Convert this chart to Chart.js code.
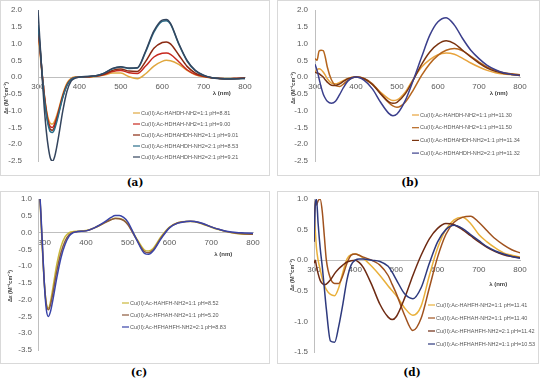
<!DOCTYPE html>
<html>
<head>
<meta charset="utf-8">
<script src="https://cdn.jsdelivr.net/npm/chart.js@4.4.1/dist/chart.umd.min.js"></script>
<style>
  body { margin: 0; background: #fff; width: 550px; height: 383px; position: relative; overflow: hidden; }
  .frame { position: absolute; border: 1px solid #d9d9d9; box-sizing: border-box; }
  canvas { position: absolute; }
  .tag { position: absolute; font-family: 'DejaVu Serif', serif; font-weight: bold; font-size: 10.5px; color: #000; transform: translateX(-50%); }
</style>
</head>
<body>
<div class="frame" style="left:0;top:0;width:270px;height:176px"></div>
<div class="frame" style="left:277px;top:0;width:263px;height:176px"></div>
<div class="frame" style="left:0;top:191px;width:270px;height:173px"></div>
<div class="frame" style="left:277px;top:191px;width:262px;height:173px"></div>
<canvas id="chartA" width="270" height="176" style="left:0;top:0"></canvas>
<canvas id="chartB" width="263" height="176" style="left:277px;top:0"></canvas>
<canvas id="chartC" width="270" height="175" style="left:0;top:190px"></canvas>
<canvas id="chartD" width="263" height="175" style="left:277px;top:190px"></canvas>
<div class="tag" style="left:135px;top:176px">(a)</div>
<div class="tag" style="left:410px;top:176px">(b)</div>
<div class="tag" style="left:139px;top:366px">(c)</div>
<div class="tag" style="left:412px;top:366px">(d)</div>
<script>
// Wavelength ticks shared by all four panels
const xTicks = [300, 400, 500, 600, 700, 800];

// Panel (a)
const wavelengthsA = [300, 305, 310, 315, 320, 325, 330, 335, 340, 345, 350, 360, 370, 380, 390, 400, 420, 440, 460, 480,
  500, 520, 540, 560, 580, 600, 610, 620, 640, 660, 680, 700, 720, 740, 760, 780, 800];
const seriesA1 = [1.3, 0.7, 0.05, -0.5, -0.95, -1.25, -1.38, -1.4, -1.32, -1.15, -0.95, -0.5, -0.18, -0.04, 0.0, 0.0, 0.0, 0.02, 0.06, 0.12,
  0.12, 0.01, -0.05, 0.1, 0.33, 0.47, 0.5, 0.49, 0.38, 0.2, 0.07, 0.01, -0.02, -0.04, -0.04, -0.04, -0.03];
const seriesA2 = [1.45, 0.8, 0.1, -0.5, -1.0, -1.33, -1.48, -1.5, -1.4, -1.22, -1.0, -0.55, -0.22, -0.06, -0.01, 0.0, 0.01, 0.03, 0.08, 0.17,
  0.2, 0.13, 0.11, 0.33, 0.6, 0.71, 0.72, 0.68, 0.46, 0.22, 0.08, 0.02, -0.02, -0.04, -0.05, -0.04, -0.03];
const seriesA3 = [1.5, 0.85, 0.1, -0.55, -1.05, -1.4, -1.56, -1.58, -1.48, -1.28, -1.05, -0.58, -0.24, -0.07, -0.01, 0.0, 0.01, 0.03, 0.09, 0.2,
  0.24, 0.18, 0.17, 0.47, 0.86, 1.03, 1.05, 0.99, 0.66, 0.32, 0.12, 0.03, -0.02, -0.04, -0.05, -0.04, -0.03];
const seriesA4 = [1.55, 0.9, 0.1, -0.6, -1.1, -1.45, -1.63, -1.65, -1.55, -1.35, -1.1, -0.6, -0.25, -0.07, -0.01, 0.0, 0.02, 0.04, 0.12, 0.25,
  0.3, 0.26, 0.27, 0.75, 1.34, 1.66, 1.68, 1.58, 0.98, 0.48, 0.19, 0.05, -0.02, -0.04, -0.05, -0.05, -0.04];
const seriesA5 = [2.0, 1.0, 0.0, -0.9, -1.6, -2.1, -2.42, -2.5, -2.38, -2.1, -1.75, -1.0, -0.42, -0.12, -0.03, 0.0, 0.02, 0.04, 0.12, 0.26,
  0.31, 0.27, 0.28, 0.78, 1.38, 1.7, 1.72, 1.6, 1.0, 0.5, 0.2, 0.06, -0.02, -0.05, -0.06, -0.05, -0.04];
const labelsA = ['Cu(II):Ac-HAHDH-NH2=1:1 pH=8.81', 'Cu(II):Ac-HDHAH-NH2=1:1 pH=9.00', 'Cu(II):Ac-HDHAHDH-NH2=1:1 pH=9.01',
  'Cu(II):Ac-HDHAHDH-NH2=2:1 pH=8.53', 'Cu(II):Ac-HDHAHDH-NH2=2:1 pH=9.21'];
const colorsA = ['#E0A840', '#C8281E', '#8B2A12', '#2A6F8A', '#34455E'];

// Panel (b)
const wavelengthsB = [300, 305, 310, 315, 320, 325, 330, 340, 350, 360, 370, 380, 400, 420, 440, 460, 480, 490, 500, 520,
  540, 560, 580, 600, 620, 640, 660, 680, 700, 720, 740, 760, 780, 800];
const seriesB1 = [0.15, 0.22, 0.25, 0.22, 0.15, 0.06, -0.05, -0.18, -0.2, -0.16, -0.1, -0.04, 0.0, -0.06, -0.22, -0.45, -0.65, -0.7, -0.68, -0.45,
  -0.05, 0.3, 0.52, 0.67, 0.72, 0.68, 0.56, 0.42, 0.3, 0.2, 0.13, 0.09, 0.07, 0.05];
const seriesB2 = [0.55, 0.5, 0.78, 0.8, 0.79, 0.6, 0.3, -0.08, -0.25, -0.28, -0.2, -0.1, 0.0, -0.04, -0.2, -0.48, -0.76, -0.86, -0.9, -0.75,
  -0.38, 0.05, 0.4, 0.65, 0.8, 0.85, 0.78, 0.62, 0.45, 0.3, 0.2, 0.13, 0.1, 0.07];
const seriesB3 = [0.15, 0.12, 0.1, 0.05, 0.0, -0.08, -0.15, -0.24, -0.25, -0.2, -0.12, -0.05, 0.0, -0.05, -0.22, -0.5, -0.74, -0.78, -0.75, -0.5,
  -0.08, 0.38, 0.75, 0.98, 1.08, 1.0, 0.8, 0.6, 0.42, 0.27, 0.17, 0.11, 0.08, 0.05];
const seriesB4 = [0.38, 0.2, -0.05, -0.3, -0.5, -0.63, -0.72, -0.78, -0.72, -0.52, -0.3, -0.12, 0.0, -0.1, -0.35, -0.75, -1.08, -1.15, -1.1, -0.7,
  -0.08, 0.6, 1.25, 1.65, 1.77, 1.55, 1.15, 0.8, 0.55, 0.35, 0.22, 0.13, 0.08, 0.05];
const labelsB = ['Cu(II):Ac-HAHDH-NH2=1:1 pH=11.30', 'Cu(II):Ac-HDHAH-NH2=1:1 pH=11.50', 'Cu(II):Ac-HDHAHDH-NH2=1:1 pH=11.34',
  'Cu(II):Ac-HDHAHDH-NH2=2:1 pH=11.32'];
const colorsB = ['#E8A33C', '#B5651D', '#7A3410', '#3B3F8C'];

// Panel (c)
const wavelengthsC = [285, 290, 295, 300, 305, 310, 315, 320, 330, 340, 350, 360, 370, 380, 400, 420, 440, 460, 470, 480,
  490, 500, 520, 540, 550, 560, 580, 600, 620, 640, 650, 660, 680, 700, 720, 740, 760, 780, 800];
const seriesC1 = [1.5, 0.9, -0.4, -1.5, -2.12, -2.25, -2.05, -1.7, -0.95, -0.42, -0.12, 0.0, 0.03, 0.04, 0.06, 0.14, 0.26, 0.39, 0.43, 0.42,
  0.37, 0.26, -0.15, -0.52, -0.55, -0.48, -0.12, 0.16, 0.29, 0.33, 0.33, 0.32, 0.25, 0.16, 0.08, 0.02, -0.03, -0.05, -0.05];
const seriesC2 = [1.5, 0.95, -0.3, -1.45, -2.15, -2.3, -2.15, -1.85, -1.15, -0.6, -0.25, -0.06, 0.01, 0.03, 0.05, 0.14, 0.26, 0.38, 0.42, 0.41,
  0.36, 0.24, -0.18, -0.57, -0.6, -0.53, -0.15, 0.15, 0.29, 0.33, 0.34, 0.33, 0.26, 0.17, 0.09, 0.02, -0.02, -0.04, -0.05];
const seriesC3 = [1.6, 1.0, -0.2, -1.5, -2.3, -2.5, -2.35, -2.05, -1.35, -0.75, -0.35, -0.1, 0.0, 0.03, 0.05, 0.14, 0.28, 0.45, 0.51, 0.51,
  0.45, 0.32, -0.18, -0.62, -0.65, -0.56, -0.18, 0.14, 0.28, 0.33, 0.34, 0.33, 0.27, 0.17, 0.09, 0.03, 0.0, -0.01, -0.02];
const labelsC = ['Cu(II):Ac-HAHFH-NH2=1:1 pH=8.52', 'Cu(II):Ac-HFHAH-NH2=1:1 pH=5.20', 'Cu(II):Ac-HFHAHFH-NH2=2:1 pH=8.83'];
const colorsC = ['#C9B83A', '#8B5A3C', '#3A44A8'];

// Panel (d)
const wavelengthsD = [300, 303, 306, 310, 315, 320, 325, 330, 340, 350, 360, 370, 380, 390, 400, 410, 420, 440, 460, 480,
  490, 500, 520, 540, 560, 580, 600, 620, 640, 660, 680, 700, 720, 740, 760, 780, 800];
const seriesD1 = [0.85, 0.5, 0.2, 0.0, -0.15, -0.3, -0.4, -0.48, -0.56, -0.58, -0.45, -0.2, 0.02, 0.09, 0.1, 0.08, 0.03, -0.1, -0.25, -0.42,
  -0.5, -0.58, -0.78, -0.9, -0.75, -0.25, 0.2, 0.5, 0.66, 0.7, 0.6, 0.42, 0.3, 0.2, 0.12, 0.08, 0.05];
const seriesD2 = [0.3, 0.97, 0.9, 0.97, 1.0, 0.8, 0.4, 0.0, -0.3, -0.38, -0.38, -0.25, -0.05, 0.08, 0.1, 0.08, 0.05, 0.0, -0.08, -0.25,
  -0.4, -0.55, -0.9, -1.15, -0.95, -0.45, 0.05, 0.42, 0.62, 0.7, 0.72, 0.62, 0.48, 0.35, 0.25, 0.17, 0.12];
const seriesD3 = [-0.05, 0.0, -0.1, -0.22, -0.33, -0.38, -0.4, -0.39, -0.32, -0.22, -0.14, -0.08, -0.03, -0.01, 0.0, -0.04, -0.12, -0.4, -0.72, -0.93,
  -0.97, -0.92, -0.62, -0.25, 0.08, 0.35, 0.52, 0.6, 0.58, 0.5, 0.4, 0.3, 0.21, 0.14, 0.09, 0.06, 0.04];
const seriesD4 = [0.3, 0.9, 1.0, 0.6, 0.2, -0.1, -0.45, -0.8, -1.32, -1.34, -1.08, -0.72, -0.32, -0.08, 0.0, 0.02, 0.02, 0.0, -0.02, -0.1,
  -0.2, -0.32, -0.55, -0.63, -0.45, -0.05, 0.3, 0.5, 0.57, 0.52, 0.42, 0.32, 0.22, 0.15, 0.1, 0.06, 0.03];
const labelsD = ['Cu(II):Ac-HAHFH-NH2=1:1 pH=11.41', 'Cu(II):Ac-HFHAH-NH2=1:1 pH=11.40', 'Cu(II):Ac-HFHAHFH-NH2=2:1 pH=11.42',
  'Cu(II):Ac-HFHAHFH-NH2=1:1 pH=10.53'];
const colorsD = ['#E9B03A', '#A0521E', '#6E2A12', '#2E3A7E'];

const axisGray = '#bfbfbf';
const textGray = '#595959';

// Draws the axis captions and the legend inside the plot area
const panelExtras = {
  id: 'panelExtras',
  afterDraw(chart, args, opts) {
    const ctx = chart.ctx;
    const xScale = chart.scales.x;
    const yScale = chart.scales.y;
    ctx.save();
    ctx.font = 'bold 6px "Liberation Sans", Arial, sans-serif';
    ctx.fillStyle = '#404040';
    ctx.textAlign = 'center';
    ctx.textBaseline = 'middle';
    ctx.fillText('λ (nm)', xScale.getPixelForValue(opts.captionAt), yScale.getPixelForValue(0) + opts.captionDrop);

    // y axis caption, rotated
    ctx.save();
    ctx.translate(opts.titleX, opts.titleY);
    ctx.rotate(-Math.PI / 2);
    ctx.font = 'bold 5.5px "Liberation Sans", Arial, sans-serif';
    ctx.fillText('Δε (M⁻¹cm⁻¹)', 0, 0);
    ctx.restore();

    ctx.font = '5.5px "Liberation Sans", Arial, sans-serif';
    ctx.textAlign = 'left';
    chart.data.datasets.forEach((ds, i) => {
      const y = opts.legendY + i * opts.legendGap;
      ctx.strokeStyle = ds.borderColor;
      ctx.lineWidth = 1.2;
      ctx.beginPath();
      ctx.moveTo(opts.legendX, y);
      ctx.lineTo(opts.legendX + 7, y);
      ctx.stroke();
      ctx.fillStyle = textGray;
      ctx.fillText(ds.label, opts.legendX + 8, y);
    });
    ctx.restore();
  }
};

function makePanel(canvasId, wavelengths, seriesList, labels, colors, cfg) {
  const datasets = seriesList.map((values, i) => ({
    label: labels[i],
    data: values.map((v, j) => ({ x: wavelengths[j], y: v })),
    borderColor: colors[i],
    borderWidth: 1.5,
    pointRadius: 0,
    cubicInterpolationMode: 'monotone',
    fill: false,
    order: seriesList.length - i
  }));

  return new Chart(document.getElementById(canvasId), {
    type: 'line',
    data: { datasets: datasets },
    plugins: [panelExtras],
    options: {
      responsive: false,
      animation: false,
      layout: { padding: cfg.padding },
      plugins: {
        legend: { display: false },
        tooltip: { enabled: false },
        panelExtras: cfg.extras
      },
      scales: {
        x: {
          type: 'linear',
          min: cfg.xMin,
          max: 800,
          position: { y: 0 },
          afterBuildTicks: scale => { scale.ticks = xTicks.map(v => ({ value: v })); },
          grid: { display: false, tickLength: 3 },
          border: { color: axisGray },
          ticks: { autoSkip: false, maxRotation: 0, padding: 2, color: textGray, font: { size: 8, family: 'Liberation Sans' } }
        },
        y: {
          min: cfg.yMin,
          max: cfg.yMax,
          afterFit: scale => { scale.width = cfg.yWidth; },
          // tick marks are hidden; their length only sets the gap between labels and axis
          grid: { display: false, tickLength: cfg.tickGap },
          border: { color: axisGray },
          ticks: {
            stepSize: 0.5,
            padding: 3,
            color: textGray,
            font: { size: 8, family: 'Liberation Sans' },
            callback: v => v.toFixed(1)
          }
        }
      }
    }
  });
}

makePanel('chartA', wavelengthsA, [seriesA1, seriesA2, seriesA3, seriesA4, seriesA5], labelsA, colorsA, {
  xMin: 300, yMin: -2.5, yMax: 2.0, yWidth: 38, tickGap: 13,
  padding: { left: 0, top: 10, right: 25, bottom: 15 },
  extras: { captionAt: 744, captionDrop: 16, titleX: 6, titleY: 98, legendX: 133, legendY: 113, legendGap: 11 }
});

makePanel('chartB', wavelengthsB, [seriesB1, seriesB2, seriesB3, seriesB4], labelsB, colorsB, {
  xMin: 300, yMin: -2.5, yMax: 2.0, yWidth: 38, tickGap: 4,
  padding: { left: 0, top: 10, right: 20, bottom: 15 },
  extras: { captionAt: 748, captionDrop: 16, titleX: 16, titleY: 88, legendX: 135, legendY: 115, legendGap: 12.7 }
});

makePanel('chartC', wavelengthsC, [seriesC1, seriesC2, seriesC3], labelsC, colorsC, {
  xMin: 285, yMin: -3.5, yMax: 1.0, yWidth: 38, tickGap: 3,
  padding: { left: 0, top: 9, right: 17, bottom: 15 },
  extras: { captionAt: 729, captionDrop: 22, titleX: 10, titleY: 96, legendX: 122, legendY: 113, legendGap: 12 }
});

makePanel('chartD', wavelengthsD, [seriesD1, seriesD2, seriesD3, seriesD4], labelsD, colorsD, {
  xMin: 300, yMin: -1.5, yMax: 1.0, yWidth: 37, tickGap: 3,
  padding: { left: 0, top: 9, right: 20, bottom: 13 },
  extras: { captionAt: 747, captionDrop: 24, titleX: 15, titleY: 85, legendX: 151, legendY: 115, legendGap: 13 }
});
</script>
</body>
</html>
